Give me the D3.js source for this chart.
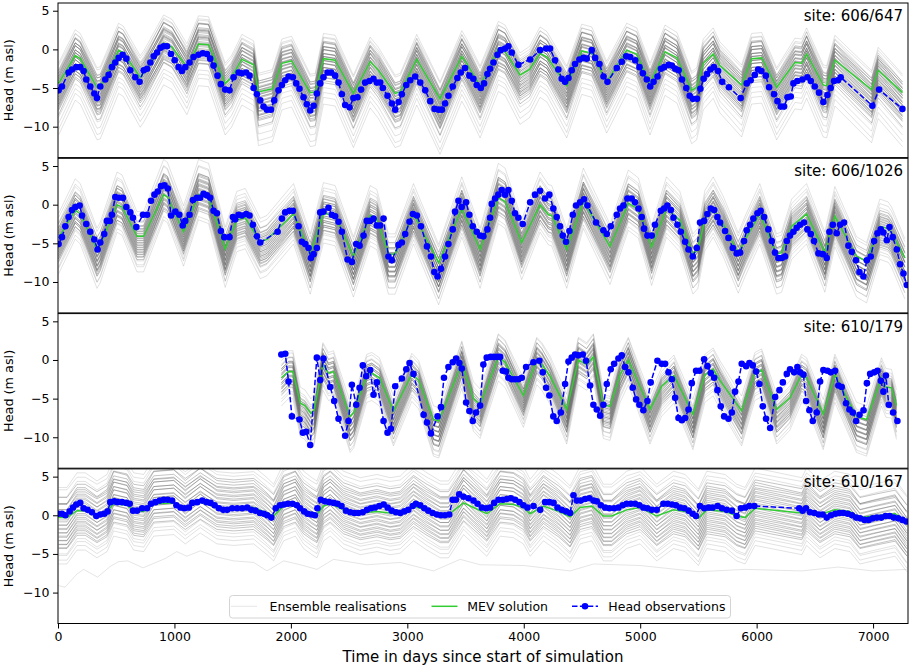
<!DOCTYPE html>
<html><head><meta charset="utf-8">
<script src="https://cdn.jsdelivr.net/npm/d3@7"></script>
<style>body{margin:0;background:#fff}svg text{font-family:"DejaVu Sans",sans-serif;fill:#000}</style>
</head><body><svg id="c" width="913" height="667"></svg>
<script>
const xTicks=[0,1000,2000,3000,4000,5000,6000,7000];
const yTicks=[5,0,-5,-10];
const sites=["site: 606/647","site: 606/1026","site: 610/179","site: 610/167"];
const legendLabels=["Ensemble realisations","MEV solution","Head observations"];

// MEV solution, [day, head]
const mev1=[[5,-4.4],[148,-0.8],[191,-1.2],[335,-4.9],[363,-4.8],[520,-0.1],[560,-0.4],[706,-3.6],[740,-3.0],[907,0.8],[980,0.3],[1107,-2.3],[1207,0.7],[1293,0.6],[1436,-4.4],[1490,-3.6],[1579,-1.3],[1680,-2.0],[1722,-5.5],[1840,-5.1],[1923,-1.8],[2006,-1.5],[2166,-5.6],[2209,-5.5],[2280,-1.2],[2380,-1.4],[2537,-5.7],[2681,-1.6],[2752,-2.7],[2895,-5.7],[2940,-5.5],[3081,-1.3],[3281,-6.4],[3468,-0.9],[3510,-1.8],[3625,-4.7],[3782,0.1],[3840,-0.3],[3968,-3.3],[4050,-2.6],[4140,-0.5],[4200,-1.0],[4369,-4.7],[4498,-0.2],[4584,-0.5],[4712,-4.2],[4884,-0.1],[4970,-0.6],[5084,-4.4],[5213,-0.3],[5316,-1.1],[5442,-5.3],[5485,-4.9],[5542,-1.8],[5627,-0.6],[5684,-2.1],[5871,-4.6],[5957,-1.2],[6043,-1.1],[6172,-4.9],[6329,-1.7],[6386,-1.8],[6429,-0.6],[6572,-4.6],[6601,-4.7],[6672,-1.4],[6987,-5.2],[7044,-2.7],[7253,-5.6]];
const mev2=[[5,-4.3],[148,-0.7],[191,-1.2],[335,-5.8],[363,-5.2],[507,0],[550,-0.3],[678,-4.1],[735,-4.1],[907,1.3],[940,1.0],[1078,-3.5],[1207,1.3],[1293,0.9],[1436,-5.7],[1536,-2.0],[1608,-1.7],[1737,-4.8],[1794,-4.5],[2023,-1.2],[2166,-6.4],[2280,-1.1],[2380,-1.4],[2537,-6.7],[2681,-1.4],[2738,-1.8],[2838,-6.4],[2895,-6.4],[3053,-1.2],[3269,-7.5],[3468,-0.5],[3625,-5.8],[3782,0.9],[3840,0.4],[3982,-4.9],[4140,0],[4212,-1.3],[4240,-1.4],[4369,-5.8],[4512,0.4],[4741,-5.4],[4898,0.2],[4984,-0.6],[5098,-5.5],[5226,-0.5],[5340,-2.0],[5453,-6.4],[5496,-5.8],[5556,-1.9],[5627,-0.5],[5713,-2.5],[5842,-6.3],[5900,-4.6],[6027,-1.2],[6171,-6.4],[6214,-6.2],[6301,-2.8],[6429,-1.2],[6586,-6.2],[6672,-1.5],[6858,-6.7],[6944,-7.3],[7058,-2.8],[7130,-3.1],[7158,-3.6],[7273,-6.9]];
const mev3=[[1918,-2.3],[1980,-1.5],[2017,-1.5],[2081,-5.6],[2120,-5.9],[2172,-6.9],[2200,-6.5],[2275,-0.6],[2323,-1.7],[2366,-1.5],[2509,-7.3],[2540,-6.8],[2652,-1.9],[2695,-1.7],[2761,-2.3],[2881,-6.6],[3039,-1.8],[3097,-2.6],[3225,-7.7],[3270,-7.9],[3468,-0.4],[3568,-5.0],[3625,-5.8],[3782,0.4],[3840,-0.3],[3997,-4.6],[4112,0],[4155,-0.6],[4226,-2.1],[4369,-6.4],[4469,0],[4540,-0.6],[4598,0.4],[4684,-5.8],[4741,-6.0],[4827,-1.9],[4898,0],[4997,-3.4],[5084,-6.4],[5184,-3.4],[5290,-2.0],[5453,-7.0],[5556,-1.9],[5627,-1.2],[5684,-2.6],[5871,-6.6],[5985,-1.7],[6043,-1.3],[6172,-6.4],[6286,-4.9],[6386,-1.9],[6429,-2.3],[6572,-7.0],[6672,-1.9],[6858,-7.3],[6944,-7.7],[7072,-2.3],[7110,-3.5],[7158,-3.6],[7201,-5.9]];
const mev4=[[5,-0.3],[77,-0.3],[163,0.6],[234,0.6],[335,0.1],[421,0.5],[478,1.5],[593,1.3],[650,0.6],[736,0.5],[822,1.5],[994,1.6],[1093,1.0],[1222,1.7],[1365,1.0],[1508,0.9],[1680,1.0],[1795,0.3],[1852,-0.1],[1938,1.2],[2038,1.5],[2109,0.7],[2181,0.3],[2224,0.1],[2281,1.2],[2338,1.5],[2453,0.7],[2596,0.3],[2739,0.5],[2853,0.3],[2939,0.4],[3053,1.2],[3168,0.6],[3283,0.1],[3354,0.1],[3483,1.6],[3568,1.0],[3683,0.2],[3797,1.5],[3911,1.4],[3997,1.0],[4055,0.2],[4169,1.2],[4298,0.5],[4398,-0.2],[4484,1.0],[4584,1.2],[4684,-0.1],[4755,-0.1],[4884,0.7],[4999,1.0],[5142,-0.1],[5286,0.7],[5386,0.5],[5500,-0.4],[5572,0.7],[5729,0.5],[5829,-0.1],[5901,-0.3],[5987,0.9],[6388,0.3],[6429,0.9],[6544,0.1],[6672,0.7],[6801,0.5],[6887,-0.3],[7002,-0.1],[7189,0.2],[7290,-0.8]];

// Head observations, [day, head]
const obs1=[[5,-5.3],[34,-4.8],[91,-3.0],[120,-2.6],[157,-2.3],[191,-2.3],[220,-2.8],[243,-3.9],[277,-4.8],[312,-5.7],[335,-6.3],[363,-4.8],[406,-3.9],[435,-3.3],[463,-2.3],[492,-1.7],[521,-1.1],[555,-0.7],[587,-1.2],[621,-2.7],[664,-3.6],[701,-4.2],[736,-2.7],[765,-2.5],[793,-1.7],[822,-0.9],[851,-0.4],[880,0.2],[907,0.4],[936,0.4],[970,-0.6],[1002,-1.4],[1036,-2.3],[1064,-2.8],[1093,-2.3],[1130,-1.7],[1164,-1.0],[1207,-0.7],[1244,-0.5],[1279,-0.6],[1307,-1.2],[1336,-2.1],[1370,-3.4],[1399,-4.5],[1436,-5.2],[1473,-5.3],[1508,-3.6],[1551,-3.0],[1579,-3.1],[1616,-3.0],[1645,-3.4],[1680,-5.0],[1708,-5.8],[1737,-6.6],[1765,-7.4],[1794,-7.8],[1828,-7.8],[1857,-6.6],[1894,-5.3],[1923,-4.6],[1951,-4.0],[1980,-3.5],[2017,-3.6],[2046,-4.4],[2074,-5.1],[2109,-6.2],[2137,-7.1],[2166,-7.9],[2195,-7.3],[2223,-5.7],[2252,-4.4],[2280,-3.6],[2315,-3.0],[2346,-3.0],[2380,-3.4],[2409,-4.3],[2438,-5.8],[2466,-7.2],[2504,-7.5],[2537,-6.3],[2572,-6.2],[2603,-5.2],[2638,-4.3],[2675,-4.1],[2709,-3.8],[2738,-4.3],[2767,-4.3],[2790,-5.0],[2830,-6.0],[2868,-7.0],[2896,-7.8],[2925,-6.8],[2953,-5.8],[2991,-4.6],[3025,-4.0],[3068,-3.5],[3111,-4.3],[3154,-5.3],[3197,-6.7],[3234,-7.7],[3269,-7.8],[3297,-7.8],[3324,-7.0],[3353,-6.0],[3390,-4.8],[3430,-3.7],[3459,-3.0],[3496,-2.4],[3533,-3.4],[3567,-3.8],[3596,-4.6],[3631,-5.0],[3659,-4.4],[3688,-3.2],[3711,-2.5],[3740,-1.7],[3774,-0.7],[3802,-0.1],[3840,0.1],[3868,0.4],[3897,-0.4],[3954,-2.0],[4055,-1.3],[4140,-0.1],[4192,0.1],[4226,0.1],[4269,-1.4],[4297,-2.6],[4326,-3.8],[4355,-4.2],[4384,-3.7],[4412,-2.7],[4441,-1.9],[4478,-1.3],[4513,-1.1],[4541,-1.2],[4584,-0.1],[4613,-1.1],[4650,-1.9],[4685,-3.5],[4719,-4.2],[4799,-2.4],[4842,-1.6],[4880,-0.9],[4914,-1.0],[4957,-1.4],[4994,-2.3],[5023,-3.1],[5057,-3.9],[5086,-4.8],[5115,-4.2],[5149,-3.5],[5178,-2.5],[5207,-2.3],[5244,-2.0],[5272,-2.1],[5301,-2.5],[5330,-2.7],[5359,-3.9],[5396,-5.0],[5425,-6.0],[5453,-6.4],[5488,-6.4],[5517,-5.1],[5545,-3.8],[5574,-3.2],[5603,-2.6],[5632,-2.3],[5669,-2.8],[5704,-4.2],[5762,-4.9],[5863,-6.3],[5915,-4.4],[5949,-4.0],[5984,-3.3],[6013,-2.6],[6041,-2.8],[6079,-3.4],[6107,-4.9],[6150,-5.8],[6179,-6.7],[6207,-7.4],[6236,-7.4],[6265,-6.2],[6293,-6.1],[6316,-4.4],[6350,-4.1],[6393,-3.9],[6436,-3.6],[6465,-4.1],[6499,-4.8],[6536,-5.6],[6573,-6.8],[6608,-5.9],[6636,-5.0],[6665,-4.1],[6699,-4.0],[6722,-3.6],[6994,-7.3],[7052,-5.2],[7252,-7.7]];
const obs2=[[5,-5.1],[34,-4.2],[63,-2.8],[91,-1.6],[120,-0.7],[149,-0.3],[186,-0.1],[206,-1.4],[243,-2.5],[277,-3.5],[312,-4.5],[340,-5.8],[363,-4.9],[397,-3.8],[420,-2.1],[445,-2.1],[463,-1.3],[492,1.0],[521,0.9],[558,0.9],[587,-0.3],[621,-1.0],[644,-1.7],[673,-2.9],[730,-1.3],[765,-1.3],[799,0.5],[828,1.3],[857,1.7],[885,2.4],[914,2.5],[943,2.1],[971,-1.4],[1008,-0.9],[1042,-1.3],[1071,-2.7],[1093,-2.1],[1130,-1.3],[1159,0.6],[1193,0.9],[1221,0.9],[1250,1.4],[1279,1.2],[1307,0.9],[1336,-0.8],[1365,-1.1],[1399,-3.4],[1428,-4.2],[1473,-4.2],[1502,-1.6],[1522,-1.9],[1551,-1.3],[1579,-1.4],[1616,-1.2],[1645,-1.4],[1674,-2.6],[1708,-4.1],[1737,-4.9],[1886,-3.5],[1923,-1.8],[1951,-1.0],[1988,-0.8],[2017,-0.8],[2066,-2.8],[2094,-4.8],[2123,-5.1],[2152,-5.6],[2172,-6.9],[2195,-6.4],[2223,-5.6],[2252,-1.0],[2280,-0.9],[2323,-0.4],[2352,-1.3],[2380,-1.5],[2409,-2.2],[2438,-3.5],[2487,-7.1],[2524,-7.4],[2561,-5.1],[2590,-5.3],[2624,-4.0],[2652,-2.1],[2681,-2.1],[2710,-1.8],[2738,-2.7],[2767,-2.7],[2796,-1.8],[2838,-6.7],[2867,-7.2],[2924,-5.2],[2953,-4.9],[2982,-3.8],[3019,-2.2],[3048,-1.2],[3082,-1.4],[3117,-2.8],[3169,-5.4],[3203,-6.7],[3232,-8.7],[3260,-9.3],[3289,-8.3],[3324,-6.7],[3353,-5.1],[3390,-3.2],[3410,-0.9],[3439,0.5],[3467,-0.3],[3505,0.3],[3533,-1.3],[3562,-2.8],[3596,-3.5],[3625,-4.0],[3653,-4.1],[3688,-3.2],[3711,-1.7],[3725,0.1],[3754,0.8],[3782,1.3],[3811,1.9],[3840,1.3],[3868,1.9],[3897,0.5],[3925,-1.1],[3954,-1.7],[3991,-2.5],[4055,0.3],[4097,1.3],[4140,1.8],[4183,0.8],[4220,1.3],[4254,-0.5],[4283,-1.6],[4312,-2.8],[4335,-4.0],[4363,-4.8],[4392,-3.4],[4421,-1.3],[4449,-0.1],[4484,0.3],[4518,0.7],[4547,-0.1],[4621,-2.3],[4684,-3.3],[4713,-3.8],[4747,-2.8],[4799,-1.3],[4827,-0.5],[4856,-0.1],[4890,0.8],[4927,0.8],[4956,0.3],[4985,-0.5],[5013,-1.6],[5033,-3.1],[5062,-4.0],[5099,-4.0],[5127,-2.6],[5177,-0.8],[5206,-0.5],[5234,-0.1],[5263,-0.7],[5286,-1.7],[5320,-2.6],[5349,-3.5],[5386,-4.8],[5415,-5.8],[5452,-6.7],[5486,-5.6],[5514,-2.3],[5549,-2.1],[5577,-1.2],[5606,-0.5],[5635,-0.7],[5663,-1.6],[5686,-2.3],[5729,-3.4],[5758,-4.3],[5795,-5.6],[5829,-6.3],[5858,-6.2],[5892,-4.7],[5915,-3.3],[5944,-2.6],[5972,-1.8],[6007,-1.1],[6035,-0.8],[6064,-1.6],[6101,-3.2],[6130,-4.7],[6158,-6.2],[6187,-6.9],[6216,-6.9],[6244,-6.7],[6259,-4.7],[6287,-4.0],[6316,-3.5],[6344,-3.0],[6373,-2.6],[6407,-2.3],[6436,-3.2],[6465,-3.8],[6493,-4.7],[6531,-6.3],[6568,-6.4],[6602,-6.9],[6625,-3.5],[6654,-2.6],[6688,-3.7],[6717,-2.6],[6751,-2.3],[6788,-5.3],[6817,-6.1],[6854,-7.2],[6883,-8.7],[6917,-9.3],[6946,-7.2],[6980,-6.7],[7009,-4.7],[7038,-3.7],[7066,-3.2],[7089,-3.6],[7118,-4.6],[7141,-2.9],[7169,-4.2],[7204,-5.8],[7232,-7.7],[7261,-8.9],[7290,-10.4]];
const obs3=[[1918,0.7],[1952,0.8],[1980,-2.8],[2009,-7.3],[2074,-7.7],[2103,-9.4],[2132,-9.3],[2166,-11.0],[2223,0.3],[2252,-2.6],[2280,0.2],[2338,-3.5],[2372,-5.3],[2409,-7.6],[2466,-9.8],[2495,-7.9],[2524,-3.2],[2561,-5.8],[2590,-3.6],[2618,-0.7],[2647,-2.1],[2681,-1.3],[2710,-4.5],[2738,-2.9],[2796,-7.9],[2830,-9.4],[2859,-8.9],[2896,-3.4],[2953,-2.4],[2991,-1.2],[3019,-0.4],[3053,-1.8],[3140,-7.1],[3169,-8.1],[3203,-9.5],[3260,-7.3],[3289,-6.1],[3315,-2.3],[3353,-0.9],[3390,-0.3],[3419,0.2],[3447,-0.4],[3468,-1.1],[3505,-5.5],[3533,-6.6],[3562,-7.9],[3590,-6.8],[3625,-5.9],[3653,-0.6],[3682,0.3],[3716,0.4],[3745,0.4],[3774,0.4],[3797,0.4],[3820,-1.4],[3848,-1.5],[3868,-2.3],[3897,-2.5],[3925,-2.5],[3954,-2.5],[3983,-2.3],[4020,-0.9],[4083,-0.3],[4134,-0.1],[4163,-1.6],[4192,-3.6],[4220,-4.6],[4254,-7.3],[4283,-7.9],[4318,-6.8],[4355,-3.1],[4384,-0.2],[4412,0.3],[4441,0.7],[4469,0.6],[4507,0.7],[4535,-0.1],[4570,-3.3],[4598,-5.8],[4627,-6.4],[4656,-7.2],[4684,-5.8],[4713,-3.1],[4747,-1.2],[4776,-0.5],[4813,0.2],[4842,0.6],[4870,-0.9],[4899,-1.6],[4936,-3.6],[4965,-5.1],[4993,-5.8],[5027,-6.5],[5062,-5.3],[5090,-2.9],[5148,-0.1],[5185,-0.5],[5214,-0.5],[5243,-1.6],[5272,-2.5],[5300,-4.9],[5329,-7.5],[5358,-7.8],[5386,-7.5],[5415,-6.4],[5443,-3.0],[5480,-1.4],[5509,-1.4],[5549,0.1],[5578,-0.8],[5606,-1.7],[5635,-2.3],[5663,-3.9],[5692,-6.0],[5721,-7.3],[5758,-7.6],[5787,-6.8],[5815,-4.1],[5844,-2.8],[5872,-0.5],[5910,-0.8],[5938,-0.4],[5967,-0.7],[5996,-1.5],[6024,-3.1],[6053,-6.0],[6081,-7.6],[6116,-8.8],[6159,-4.8],[6196,-3.9],[6225,-2.9],[6259,-1.8],[6287,-1.2],[6322,-1.6],[6350,-0.9],[6373,-1.6],[6402,-1.9],[6425,-5.3],[6453,-6.5],[6482,-7.9],[6516,-6.8],[6545,-2.8],[6573,-1.3],[6608,-1.4],[6636,-1.6],[6674,-1.4],[6702,-3.3],[6731,-3.5],[6768,-5.6],[6797,-6.4],[6826,-6.8],[6855,-7.9],[6884,-7.1],[6918,-6.5],[6947,-3.0],[6975,-1.8],[7010,-1.6],[7038,-1.4],[7067,-2.7],[7089,-4.1],[7110,-2.0],[7135,-5.8],[7172,-6.8],[7209,-7.9]];
const obs4=[[5,0.2],[34,0.2],[63,0],[100,0.5],[129,1.0],[157,1.4],[191,1.6],[220,0.9],[254,0.7],[292,0.4],[329,-0.1],[363,0.1],[397,0.2],[426,0.5],[449,1.7],[484,1.8],[512,1.7],[550,1.7],[587,1.6],[616,1.5],[644,0.6],[679,0.6],[722,0.9],[765,0.9],[799,1.5],[837,1.7],[874,1.9],[908,2.0],[943,2.0],[980,1.9],[1017,1.3],[1052,1.0],[1087,0.9],[1124,1.0],[1153,1.6],[1196,1.7],[1239,1.9],[1276,1.7],[1310,1.6],[1345,1.3],[1382,0.9],[1419,0.7],[1453,0.7],[1496,0.9],[1539,0.9],[1582,0.9],[1625,1.0],[1659,0.7],[1697,0.6],[1734,0.3],[1768,0.2],[1797,0],[1832,-0.3],[1870,0.9],[1907,1.3],[1941,1.4],[1976,1.5],[2014,1.5],[2051,1.3],[2079,0.9],[2114,0.5],[2143,0.2],[2177,0.1],[2206,0],[2228,0.9],[2257,2.0],[2292,1.8],[2329,1.7],[2367,1.6],[2401,1.5],[2435,1.2],[2473,0.6],[2510,0.4],[2545,0.3],[2579,0.3],[2617,0.4],[2654,0.7],[2688,0.9],[2722,1.0],[2760,1.2],[2797,1.4],[2831,1.0],[2866,0.6],[2903,0.4],[2940,0.3],[2974,0.5],[3009,0.7],[3046,1.2],[3074,1.5],[3111,1.3],[3146,0.9],[3180,0.6],[3217,0.3],[3254,0.1],[3289,0],[3323,0],[3360,0.1],[3389,2.0],[3417,2.0],[3446,2.7],[3483,2.4],[3525,2.2],[3568,1.9],[3603,1.5],[3640,1.0],[3677,0.9],[3711,1.0],[3746,1.6],[3783,2.0],[3820,2.0],[3855,2.1],[3889,2.2],[3926,2.0],[3963,1.7],[3997,1.3],[4032,1.0],[4084,1.2],[4141,0.7],[4184,1.7],[4221,1.7],[4256,1.6],[4290,1.0],[4327,0.7],[4364,0.5],[4398,0.3],[4427,2.6],[4456,1.9],[4490,1.9],[4527,2.1],[4564,2.2],[4599,1.9],[4627,1.8],[4662,1.3],[4699,1.0],[4736,0.9],[4776,0.9],[4813,1.0],[4850,1.3],[4884,1.5],[4919,1.5],[4956,1.5],[4993,1.3],[5027,1.0],[5062,0.9],[5099,0.7],[5142,0.7],[5199,1.5],[5235,1.5],[5273,1.4],[5307,1.3],[5342,1.0],[5379,0.9],[5416,0.6],[5450,0.2],[5479,-0.1],[5513,1.2],[5550,0.9],[5588,1.0],[5622,1.0],[5665,1.2],[5702,0.9],[5742,0.7],[5788,0.6],[5828,-0.1],[5865,0.9],[5902,1.0],[5937,1.2],[5980,1.2],[6366,0.9],[6395,0.6],[6424,0.9],[6458,0.4],[6496,0.3],[6533,0.1],[6567,0.1],[6602,-0.3],[6639,0],[6676,0.2],[6711,0.3],[6745,0.3],[6782,0.2],[6819,0],[6854,-0.3],[6888,-0.4],[6926,-0.6],[6963,-0.6],[6997,-0.4],[7033,-0.3],[7070,-0.3],[7107,-0.1],[7142,-0.1],[7177,-0.3],[7215,-0.4],[7252,-0.6],[7286,-0.8]];

// Ensemble realisations: each member = MEV shape with a read offset [m] and amplitude factor about the panel centre
const ensCentre=[-2.5,-2.5,-3.5,0.7];
const ens1=[[3.0,0.2],[2.6,0.15],[2.3,0.3],[2.0,0.2],[1.8,0.25],[1.6,0.35],[1.45,0.1],[1.3,0.2],[1.15,0.3],[1.0,0.15],[0.85,0.25],[0.7,0.35],[0.55,0.1],[0.4,0.2],[0.25,0.3],[0.1,0.15],[-0.05,0.25],[-0.2,0.35],[-0.35,0.1],[-0.5,0.2],[-0.65,0.3],[-0.8,0.15],[-0.95,0.25],[-1.1,0.35],[-1.25,0.1],[-1.4,0.2],[-1.55,0.3],[-1.7,0.15],[-1.85,0.25],[-2.0,0.35],[-2.15,0.1],[-2.3,0.2],[-2.45,0.3],[-2.6,0.15],[-2.8,0.25],[-3.1,0.2],[-3.5,0.3],[-4.0,0.2],[-4.7,0.25],[-5.4,0.3],[-6.2,0.25]];
const ens2=[[3.6,0.25],[3.0,0.2],[2.5,0.3],[2.1,0.15],[1.8,0.25],[1.6,0.2],[1.4,0.3],[1.25,0.15],[1.1,0.25],[0.95,0.2],[0.8,0.3],[0.65,0.15],[0.5,0.25],[0.35,0.2],[0.2,0.3],[0.05,0.15],[-0.1,0.25],[-0.25,0.2],[-0.4,0.3],[-0.55,0.15],[-0.7,0.25],[-0.85,0.2],[-1.0,0.3],[-1.15,0.15],[-1.3,0.25],[-1.45,0.2],[-1.6,0.3],[-1.75,0.15],[-1.9,0.25],[-2.05,0.2],[-2.2,0.3],[-2.4,0.15],[-2.6,0.25],[-2.85,0.2],[-3.2,0.3],[-3.6,0.2],[-4.2,0.25]];
const ens3=[[2.4,0.15],[1.9,0.25],[1.5,0.2],[1.2,0.3],[1.0,0.15],[0.85,0.25],[0.7,0.2],[0.55,0.3],[0.4,0.15],[0.25,0.25],[0.1,0.2],[-0.05,0.3],[-0.2,0.15],[-0.35,0.25],[-0.5,0.2],[-0.65,0.3],[-0.8,0.15],[-0.95,0.25],[-1.1,0.2],[-1.25,0.3],[-1.4,0.15],[-1.55,0.25],[-1.7,0.2],[-1.85,0.3],[-2.0,0.15],[-2.2,0.25],[-2.4,0.2],[-2.7,0.3],[-3.0,0.2],[-3.4,0.25],[-3.9,0.2]];
const ens4=[[5.0,1.1],[4.4,0.8],[3.9,1.2],[3.5,0.9],[3.1,1.3],[2.8,1.0],[2.5,0.8],[2.25,1.2],[2.0,1.0],[1.75,1.3],[1.5,0.9],[1.25,1.2],[1.0,1.0],[0.75,1.3],[0.5,0.8],[0.25,1.2],[0,1.0],[-0.25,1.3],[-0.5,0.9],[-0.75,1.2],[-1.0,1.0],[-1.25,1.3],[-1.5,0.9],[-1.75,1.2],[-2.0,1.0],[-2.25,1.2],[-2.5,1.0],[-2.8,1.1],[-3.1,0.9],[-3.5,1.2],[-3.9,1.0],[-4.4,1.1],[-5.0,1.0]];
const ens4Low=[[5,-9.1],[60,-9.3],[163,-7.6],[220,-7.0],[340,-8.0],[450,-6.6],[520,-6.0],[600,-5.9],[730,-6.8],[920,-5.6],[1020,-4.7],[1107,-5.3],[1222,-4.6],[1365,-5.4],[1508,-5.9],[1680,-6.1],[1795,-7.2],[1938,-5.9],[2081,-6.4],[2224,-7.0],[2366,-5.7],[2652,-6.4],[2939,-6.1],[3225,-7.2],[3454,-5.7],[3626,-6.4],[4000,-6.5],[4398,-7.2],[4600,-6.3],[5000,-6.5],[5500,-7.3],[5900,-7.0],[6388,-7.2],[6700,-6.7],[7000,-7.2],[7290,-7.0]];

const panels=[
  {mev:mev1,obs:obs1,ens:ens1,site:sites[0]},
  {mev:mev2,obs:obs2,ens:ens2,site:sites[1]},
  {mev:mev3,obs:obs3,ens:ens3,site:sites[2]},
  {mev:mev4,obs:obs4,ens:ens4,site:sites[3],extra:ens4Low}
];

const svg=d3.select("#c");
const L=58,R=908,T0=3,PH=154.6,STEP=155.3;
const x=d3.scaleLinear().domain([0,7300]).range([L,R]);
const fmt=d=>d<0?"\u2212"+Math.abs(d):String(d);
const ENS_COL="#5e5e5e",MEV_COL="#32cd32",OBS_COL="#0000ff";

panels.forEach((p,i)=>{
  const t=T0+i*STEP;
  const y=d3.scaleLinear().domain([-14,6]).range([t+PH,t]);
  const line=d3.line().x(d=>x(d[0])).y(d=>y(d[1]));
  svg.append("clipPath").attr("id","cp"+i).append("rect").attr("x",L).attr("y",t).attr("width",R-L).attr("height",PH);
  const g=svg.append("g").attr("clip-path","url(#cp"+i+")");
  const c=ensCentre[i], n=p.ens.length;
  p.ens.forEach(([o,a],k)=>{
    const outer=k<3||k>=n-4;
    g.append("path").attr("d",line(p.mev.map(([d,v])=>[d,v+o+a*(v-c)])))
     .attr("fill","none").attr("stroke",ENS_COL).attr("stroke-opacity",outer?0.18:0.36).attr("stroke-width",1);
  });
  if(p.extra){
    g.append("path").attr("d",line(p.extra)).attr("fill","none").attr("stroke",ENS_COL).attr("stroke-opacity",0.16).attr("stroke-width",1);
  }
  g.append("path").attr("d",line(p.mev)).attr("fill","none").attr("stroke",MEV_COL).attr("stroke-width",1.5);
  g.append("path").attr("d",line(p.obs)).attr("fill","none").attr("stroke",OBS_COL).attr("stroke-width",1.5).attr("stroke-dasharray","5.5,2.4");
  g.selectAll("circle.o").data(p.obs).enter().append("circle").attr("class","o")
    .attr("cx",d=>x(d[0])).attr("cy",d=>y(d[1])).attr("r",3.3).attr("fill",OBS_COL);
  svg.append("rect").attr("x",L).attr("y",t).attr("width",R-L).attr("height",PH)
    .attr("fill","none").attr("stroke","#000").attr("stroke-width",1);
  const ya=svg.append("g").attr("transform","translate("+L+",0)")
    .call(d3.axisLeft(y).tickValues(yTicks).tickFormat(fmt).tickSize(5).tickPadding(3.5));
  ya.select(".domain").remove();
  ya.selectAll("text").style("font-size","12.5px").style("font-family","DejaVu Sans");
  ya.selectAll("line").attr("stroke","#000");
  svg.append("text").attr("transform","translate(12.5,"+(t+PH/2)+") rotate(-90)")
    .attr("text-anchor","middle").style("font-size","12.8px").text("Head (m asl)");
  svg.append("text").attr("x",903).attr("y",t+18).attr("text-anchor","end")
    .style("font-size","15px").text(p.site);
  if(i===3){
    const xa=svg.append("g").attr("transform","translate(0,"+(t+PH)+")")
      .call(d3.axisBottom(x).tickValues(xTicks).tickFormat(d=>String(d)).tickSize(5).tickPadding(3.5));
    xa.select(".domain").remove();
    xa.selectAll("text").style("font-size","12.5px").style("font-family","DejaVu Sans");
    xa.selectAll("line").attr("stroke","#000");
    svg.append("text").attr("x",(L+R)/2).attr("y",662).attr("text-anchor","middle")
      .style("font-size","15px").text("Time in days since start of simulation");
    const lg=svg.append("g");
    lg.append("rect").attr("x",229.5).attr("y",595.5).attr("width",501).attr("height",22.5).attr("rx",3)
      .attr("fill","#fff").attr("fill-opacity",0.8).attr("stroke","#d4d4d4");
    const ly=606.3;
    lg.append("line").attr("x1",231).attr("x2",257).attr("y1",ly).attr("y2",ly).attr("stroke",ENS_COL).attr("stroke-opacity",0.16).attr("stroke-width",1);
    lg.append("text").attr("x",269.5).attr("y",ly).attr("dy","0.36em").style("font-size","12.5px").text(legendLabels[0]);
    lg.append("line").attr("x1",431.5).attr("x2",457.5).attr("y1",ly).attr("y2",ly).attr("stroke",MEV_COL).attr("stroke-width",1.5);
    lg.append("text").attr("x",467.3).attr("y",ly).attr("dy","0.36em").style("font-size","12.5px").text(legendLabels[1]);
    lg.append("line").attr("x1",572).attr("x2",598).attr("y1",ly).attr("y2",ly).attr("stroke",OBS_COL).attr("stroke-width",1.5).attr("stroke-dasharray","5.5,2.4");
    lg.append("circle").attr("cx",585).attr("cy",ly).attr("r",3.3).attr("fill",OBS_COL);
    lg.append("text").attr("x",608.3).attr("y",ly).attr("dy","0.36em").style("font-size","12.5px").text(legendLabels[2]);
  }
});
</script></body></html>
